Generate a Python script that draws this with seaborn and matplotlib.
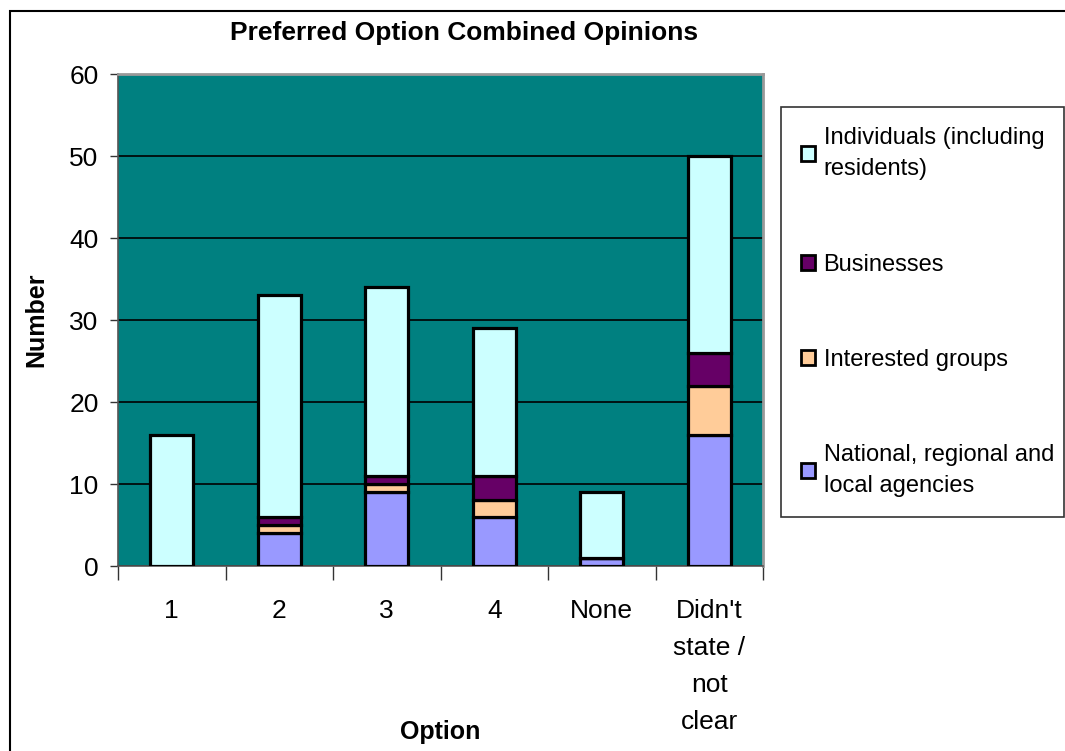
import pandas as pd
import seaborn as sns
import matplotlib.pyplot as plt
from matplotlib.patches import Patch, Rectangle

# === DATA ===
options = ["1", "2", "3", "4", "None", "Didn't\nstate /\nnot\nclear"]
agencies = [0, 4, 9, 6, 1, 16]
interested = [0, 1, 1, 2, 0, 6]
businesses = [0, 1, 1, 3, 0, 4]
individuals = [16, 27, 23, 18, 8, 24]

series = [
    ("National, regional and\nlocal agencies", agencies, "#9999FF"),
    ("Interested groups", interested, "#FFCC99"),
    ("Businesses", businesses, "#660066"),
    ("Individuals (including\nresidents)", individuals, "#CCFFFF"),
]

sns.set_style("white")
plt.rcParams['font.family'] = ['Liberation Sans', 'DejaVu Sans']
for key in ["text.color", "axes.labelcolor", "xtick.color", "ytick.color"]:
    plt.rcParams[key] = "black"

fig = plt.figure(figsize=(10.65, 7.51), dpi=100)
ax = fig.add_axes([118 / 1065, 1 - 566 / 751, 645 / 1065, 492 / 751])
ax.set_facecolor("#008080")

# stacked bars, bottom segment first
bottom = [0] * len(options)
for name, vals, color in series:
    df = pd.DataFrame({"option": options, "value": vals})
    sns.barplot(data=df, x="option", y="value", color=color, saturation=1,
                width=0.4, bottom=bottom, edgecolor="black", linewidth=2.3,
                ax=ax, order=options, zorder=3)
    bottom = [b + v for b, v in zip(bottom, vals)]

ax.set_ylim(0, 60)
ax.set_xlim(-0.5, len(options) - 0.5)
ax.set_yticks(range(0, 61, 10))
ax.yaxis.grid(True, color="black", linewidth=1.2, zorder=1)
ax.set_axisbelow(True)
ax.tick_params(axis="y", labelsize=19, length=6, width=1, direction="out",
               left=True, color="#333333", pad=8)

# category ticks sit between the bars
ax.set_xticks(range(len(options)))
ax.set_xticklabels(options, fontsize=19, linespacing=1.68, va="top")
ax.tick_params(axis="x", length=0, pad=24)
ax.set_xticks([i - 0.5 for i in range(len(options) + 1)], minor=True)
ax.tick_params(axis="x", which="minor", length=10, width=1, direction="out",
               bottom=True, color="#333333")

for side in ["top", "right"]:
    ax.spines[side].set_color("#999999")
    ax.spines[side].set_linewidth(2)
for side in ["left", "bottom"]:
    ax.spines[side].set_color("#555555")
    ax.spines[side].set_linewidth(1.2)

ax.set_xlabel("Option", fontsize=18, fontweight="bold", labelpad=-10)
ax.set_ylabel("Number", fontsize=18, fontweight="bold", labelpad=15)

fig.text(464 / 1065, 1 - 33 / 751, "Preferred Option Combined Opinions",
         ha="center", va="center", fontsize=19, fontweight="bold")

# legend, top entry is the top segment
handles = [Patch(facecolor=c, edgecolor="black", linewidth=2, label=n)
           for n, v, c in reversed(series)]
leg = fig.legend(handles=handles, loc="upper left",
                 bbox_to_anchor=(781 / 1065, 1 - 107 / 751, 283 / 1065, 0.0),
                 mode="expand", fontsize=17, frameon=True, fancybox=False,
                 labelspacing=3.1, handlelength=0.6, handleheight=0.6,
                 handletextpad=0.35, borderpad=0.85, borderaxespad=0)
leg.get_frame().set_edgecolor("black")
leg.get_frame().set_linewidth(1.2)
for t in leg.get_texts():
    t.set_linespacing(1.55)

# outer chart frame
fig.patches.append(Rectangle((10 / 1065, -0.1), 1.2, 1 - 11 / 751 + 0.1,
                             transform=fig.transFigure, fill=False,
                             edgecolor="black", linewidth=1.5))

fig.savefig("out.png", dpi=100)
